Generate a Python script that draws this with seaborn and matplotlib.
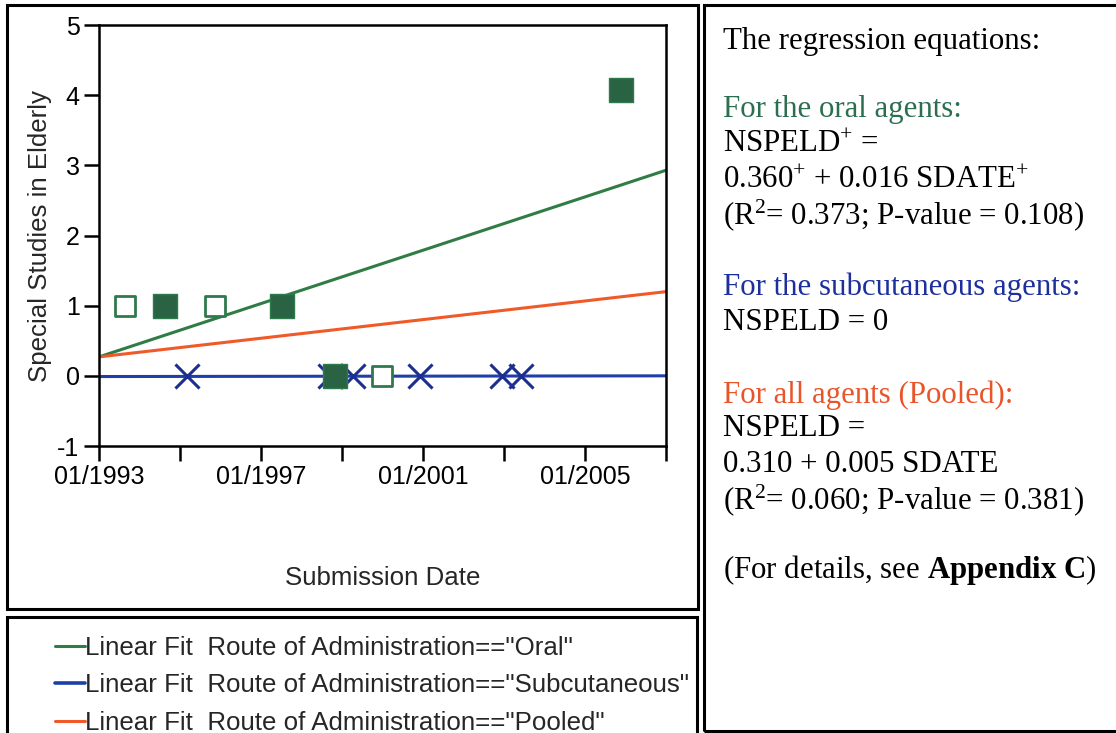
import matplotlib
matplotlib.use("Agg")
import matplotlib.pyplot as plt
from matplotlib.patches import Rectangle
from matplotlib.lines import Line2D
import seaborn as sns
import pandas as pd

# ---------------- data ----------------
oral_open_dates = ["1993-08-20", "1995-11-15", "2000-01-01"]
oral_open_vals = [1, 1, 0]
oral_filled_dates = ["1994-08-20", "1997-07-12", "1998-10-27", "2005-11-17"]
oral_filled_vals = [1, 1, 0, 4.08]
subq_dates = ["1995-03-06", "1998-09-13", "1999-04-08", "2000-12-05", "2002-12-16", "2003-05-30"]
subq_vals = [0, 0, 0, 0, 0, 0]

fit_dates = ["1993-01-01", "2007-01-01"]
oral_fit = [0.27, 2.93]
subq_fit = [-0.01, 0.0]
pooled_fit = [0.27, 1.20]

tick_dates = ["1993-01-01", "1995-01-01", "1997-01-01", "1999-01-01",
              "2001-01-01", "2003-01-01", "2005-01-01", "2007-01-01"]
tick_labels = ["01/1993", "", "01/1997", "", "01/2001", "", "01/2005", ""]
y_ticks = [-1, 0, 1, 2, 3, 4, 5]

legend_labels = ['Linear Fit  Route of Administration=="Oral"',
                 'Linear Fit  Route of Administration=="Subcutaneous"',
                 'Linear Fit  Route of Administration=="Pooled"']

eq_lines = [
    ("The regression equations:", "black"),
    (r"For the oral agents:", "#2c6e50"),
    (r"NSPELD$^{+}$ =", "black"),
    (r"0.360$^{+}$ + 0.016 SDATE$^{+}$", "black"),
    (r"(R$^{2}$= 0.373; P-value = 0.108)", "black"),
    (r"For the subcutaneous agents:", "#1c2f9c"),
    (r"NSPELD = 0", "black"),
    (r"For all agents (Pooled):", "#e8552a"),
    (r"NSPELD =", "black"),
    (r"0.310 + 0.005 SDATE", "black"),
    (r"(R$^{2}$= 0.060; P-value = 0.381)", "black"),
    (r"(For details, see $\mathbf{Appendix\ C}$)", "black"),
]
eq_y_px = [41, 110, 144, 180, 215, 287, 322, 395, 428, 465, 500, 570]

# ---------------- colours ----------------
GREEN_LINE = "#2f7d45"
GREEN_FILL = "#2a6343"
GREEN_EDGE = "#2f7a4c"
BLUE = "#1f3fa8"
BLUE_X = "#1c2f8f"
ORANGE = "#f05a28"

sns.set_style("white")
plt.rcParams["font.family"] = ["Liberation Sans", "DejaVu Sans"]
plt.rcParams["mathtext.fontset"] = "custom"
plt.rcParams["mathtext.rm"] = "Liberation Serif"
plt.rcParams["mathtext.it"] = "Liberation Serif:italic"
plt.rcParams["mathtext.bf"] = "Liberation Serif:bold"

W, H = 1116, 733
fig = plt.figure(figsize=(W / 100, H / 100), dpi=100)
fig.patch.set_facecolor("white")

def fx(px):
    return px / W

def fy(py):
    return 1 - py / H

ax = fig.add_axes([fx(99), fy(446), fx(666) - fx(99), fy(25) - fy(446)])

fit_df = pd.DataFrame({
    "date": pd.to_datetime(fit_dates * 3),
    "val": oral_fit + subq_fit + pooled_fit,
    "series": ["Oral"] * 2 + ["Subcutaneous"] * 2 + ["Pooled"] * 2,
})
sns.lineplot(data=fit_df, x="date", y="val", hue="series",
             palette={"Oral": GREEN_LINE, "Subcutaneous": BLUE, "Pooled": ORANGE},
             linewidth=2.2, legend=False, ax=ax, zorder=2)

sub_df = pd.DataFrame({"date": pd.to_datetime(subq_dates), "val": subq_vals})
sns.scatterplot(data=sub_df, x="date", y="val", marker="x", s=300,
                color=BLUE_X, linewidth=2.2, ax=ax, zorder=3)

open_df = pd.DataFrame({"date": pd.to_datetime(oral_open_dates), "val": oral_open_vals})
sns.scatterplot(data=open_df, x="date", y="val", marker="s", s=190,
                facecolor="white", edgecolor=GREEN_EDGE, linewidth=2.0, ax=ax, zorder=4)

filled_df = pd.DataFrame({"date": pd.to_datetime(oral_filled_dates), "val": oral_filled_vals})
sns.scatterplot(data=filled_df, x="date", y="val", marker="s", s=300,
                color=GREEN_FILL, edgecolor=GREEN_EDGE, linewidth=1.0, ax=ax, zorder=4)

ax.set_xlim(pd.Timestamp(fit_dates[0]), pd.Timestamp(fit_dates[1]))
ax.set_ylim(-1, 5)
ax.set_xticks(pd.to_datetime(tick_dates))
ax.set_xticklabels(tick_labels)
ax.set_yticks(y_ticks)
ax.set_yticklabels([str(v) for v in y_ticks])
ax.tick_params(axis="both", direction="out", length=11, width=1.8,
               labelsize=18, color="black", labelcolor="black", pad=3)
ax.tick_params(axis="x", bottom=True)
ax.tick_params(axis="y", left=True)
for sp in ax.spines.values():
    sp.set_visible(True)
    sp.set_linewidth(1.8)
    sp.set_color("black")
ax.set_xlabel("Submission Date", fontsize=18.6, labelpad=55)
ax.set_ylabel("Special Studies in Elderly", fontsize=18.6, labelpad=4)
ax.grid(False)

# ---------------- boxes ----------------
for (x0, y0, x1, y1) in [(7, 5, 698, 609), (7, 617, 697, 745), (704, 5, 1125, 731)]:
    fig.patches.append(Rectangle((fx(x0), fy(y1)), fx(x1) - fx(x0), fy(y0) - fy(y1),
                                 transform=fig.transFigure, fill=False,
                                 edgecolor="black", linewidth=2.2, zorder=10))

# ---------------- legend ----------------
handles = [Line2D([], [], color=GREEN_LINE, linewidth=2.2),
           Line2D([], [], color=BLUE, linewidth=2.6),
           Line2D([], [], color=ORANGE, linewidth=2.2)]
fig.legend(handles, legend_labels, loc="upper left",
           bbox_to_anchor=(fx(55), fy(636)), frameon=False,
           fontsize=18.6, handlelength=1.15, handletextpad=0.0,
           labelspacing=0.52, borderpad=0, borderaxespad=0)

# ---------------- equations ----------------
for (txt, col), ypx in zip(eq_lines, eq_y_px):
    fig.text(fx(723), fy(ypx), txt, color=col, fontsize=22.2,
             family="Liberation Serif", va="center", ha="left")

fig.savefig("out.png", dpi=100, facecolor="white")
